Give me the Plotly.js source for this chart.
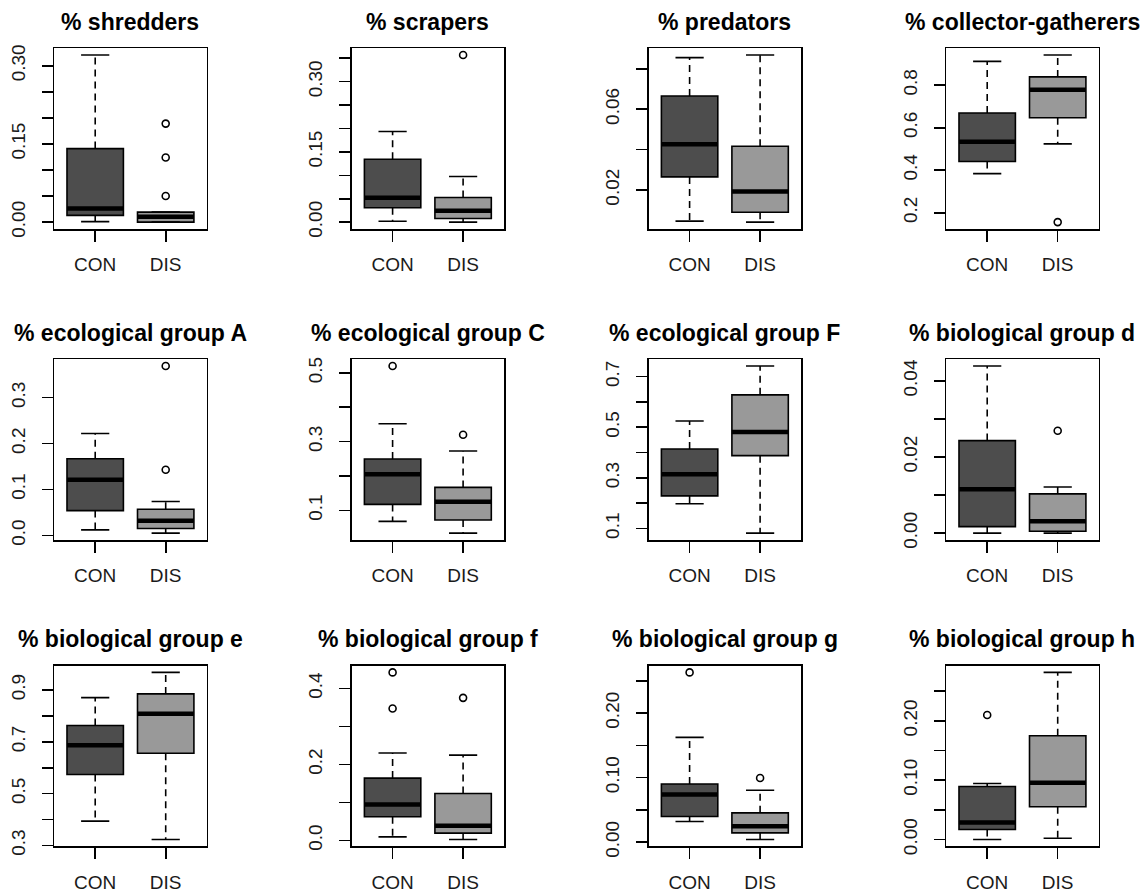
<!DOCTYPE html>
<html>
<head>
<meta charset="utf-8">
<script src="https://cdn.plot.ly/plotly-3.0.1.min.js"></script>
<style>html,body{margin:0;padding:0;background:#fff;}#chart{width:1143px;height:893px;}</style>
</head>
<body>
<div id="chart"></div>
<script>
// ---------------- data ----------------
const panelTitles = [
  "% shredders", "% scrapers", "% predators", "% collector-gatherers",
  "% ecological group A", "% ecological group C", "% ecological group F", "% biological group d",
  "% biological group e", "% biological group f", "% biological group g", "% biological group h"
];
const groupNames = ["CON", "DIS"];

const conLowerWhisker = [0.001, 0.002, 0.0046, 0.384, 0.012, 0.068, 0.198, 0.0000, 0.394, 0.0096, 0.032, 0.000];
const conQ1           = [0.013, 0.0306, 0.0265, 0.441, 0.054, 0.1175, 0.229, 0.0017, 0.574, 0.0623, 0.0397, 0.0169];
const conMedian       = [0.026, 0.0519, 0.0427, 0.534, 0.121, 0.205, 0.314, 0.0115, 0.687, 0.0947, 0.0737, 0.0287];
const conQ3           = [0.141, 0.1344, 0.0666, 0.669, 0.167, 0.2495, 0.414, 0.0243, 0.763, 0.164, 0.0902, 0.0893];
const conUpperWhisker = [0.3206, 0.1934, 0.0856, 0.912, 0.222, 0.352, 0.525, 0.0439, 0.8705, 0.230, 0.1624, 0.0944];
const conOutliers     = [[], [], [], [], [], [0.520], [], [], [], [0.442, 0.347], [0.263], [0.2096]];

const disLowerWhisker = [0.000, 0.000, 0.0041, 0.524, 0.005, 0.034, 0.082, 0.0000, 0.323, 0.0026, 0.0041, 0.0022];
const disQ1           = [0.000, 0.0078, 0.0090, 0.647, 0.015, 0.072, 0.388, 0.0005, 0.656, 0.0193, 0.0144, 0.0551];
const disMedian       = [0.0104, 0.0242, 0.0193, 0.778, 0.032, 0.125, 0.481, 0.0031, 0.808, 0.0386, 0.0247, 0.0955];
const disQ3           = [0.0192, 0.0526, 0.0417, 0.839, 0.057, 0.167, 0.628, 0.0103, 0.885, 0.1237, 0.0454, 0.1747];
const disUpperWhisker = [0.0192, 0.0974, 0.0869, 0.942, 0.074, 0.273, 0.742, 0.0121, 0.968, 0.2246, 0.0804, 0.2815];
const disOutliers     = [[0.05, 0.124, 0.189], [0.357], [], [0.156], [0.143, 0.369], [0.320], [], [0.0269], [], [0.375], [0.0995], []];

const yTickValues = [
  [0, 0.05, 0.10, 0.15, 0.20, 0.25, 0.30],
  [0, 0.05, 0.10, 0.15, 0.20, 0.25, 0.30, 0.35],
  [0.02, 0.04, 0.06, 0.08],
  [0.2, 0.4, 0.6, 0.8],
  [0.0, 0.1, 0.2, 0.3],
  [0.1, 0.2, 0.3, 0.4, 0.5],
  [0.1, 0.2, 0.3, 0.4, 0.5, 0.6, 0.7],
  [0, 0.01, 0.02, 0.03, 0.04],
  [0.3, 0.4, 0.5, 0.6, 0.7, 0.8, 0.9],
  [0.0, 0.1, 0.2, 0.3, 0.4],
  [0, 0.05, 0.10, 0.15, 0.20, 0.25],
  [0, 0.05, 0.10, 0.15, 0.20, 0.25]
];
const yTickLabels = [
  ["0.00", "", "", "0.15", "", "", "0.30"],
  ["0.00", "", "", "0.15", "", "", "0.30", ""],
  ["0.02", "", "0.06", ""],
  ["0.2", "0.4", "0.6", "0.8"],
  ["0.0", "0.1", "0.2", "0.3"],
  ["0.1", "", "0.3", "", "0.5"],
  ["0.1", "", "0.3", "", "0.5", "", "0.7"],
  ["0.00", "", "0.02", "", "0.04"],
  ["0.3", "", "0.5", "", "0.7", "", "0.9"],
  ["0.0", "", "0.2", "", "0.4"],
  ["0.00", "", "0.10", "", "0.20", ""],
  ["0.00", "", "0.10", "", "0.20", ""]
];

// ---------------- styling / layout ----------------
const W = 1143, H = 893;
const colLeftPx = [54.3, 351.7, 648.7, 946.3];
const plotWidthPx = 152.3;
const rowTopPx = [48.3, 359.3, 665.7];
const plotHeightPx = 180.5;
const titleGapPx = 26.5;
const boxWidth = 0.8, stapleWidth = 0.4;
const groupPos = [1, 2];
const fillColors = ["#4d4d4d", "#999999"];
const tickFont = {family: "Liberation Sans, Arial, sans-serif", size: 19, color: "#1a1a1a"};
const titleFont = {family: "Liberation Sans, Arial, sans-serif", size: 23, color: "#000"};

const traces = [];
const layout = {
  width: W, height: H,
  margin: {l: 0, r: 0, t: 0, b: 0},
  paper_bgcolor: "#fff", plot_bgcolor: "#fff",
  showlegend: false,
  annotations: []
};

for (let i = 0; i < 12; i++) {
  const row = Math.floor(i / 4), col = i % 4;
  const sfx = i === 0 ? "" : String(i + 1);
  const xa = "x" + sfx, ya = "y" + sfx;

  const left = colLeftPx[col], right = left + plotWidthPx;
  const top = rowTopPx[row], bottom = top + plotHeightPx;

  const groups = [
    {lw: conLowerWhisker[i], q1: conQ1[i], med: conMedian[i], q3: conQ3[i], uw: conUpperWhisker[i], out: conOutliers[i]},
    {lw: disLowerWhisker[i], q1: disQ1[i], med: disMedian[i], q3: disQ3[i], uw: disUpperWhisker[i], out: disOutliers[i]}
  ];

  // y range: R style, data range extended by 4%
  let all = [];
  groups.forEach(g => { all.push(g.lw, g.uw, g.q1, g.q3); all = all.concat(g.out); });
  const mn = Math.min(...all), mx = Math.max(...all);
  const ext = 0.04 * (mx - mn);

  const dashX = [], dashY = [], stapX = [], stapY = [], medX = [], medY = [], outX = [], outY = [];
  groups.forEach((g, k) => {
    const c = groupPos[k];
    traces.push({
      type: "box", x: [c], q1: [g.q1], median: [g.med], q3: [g.q3],
      lowerfence: [g.q1], upperfence: [g.q3],
      width: boxWidth, whiskerwidth: 0, boxpoints: false,
      fillcolor: fillColors[k], line: {color: "#000", width: 1.6},
      xaxis: xa, yaxis: ya, hoverinfo: "skip", name: groupNames[k]
    });
    if (g.uw > g.q3) { dashX.push(c, c, null); dashY.push(g.q3, g.uw, null); }
    if (g.lw < g.q1) { dashX.push(c, c, null); dashY.push(g.q1, g.lw, null); }
    stapX.push(c - stapleWidth / 2, c + stapleWidth / 2, null, c - stapleWidth / 2, c + stapleWidth / 2, null);
    stapY.push(g.uw, g.uw, null, g.lw, g.lw, null);
    medX.push(c - boxWidth / 2, c + boxWidth / 2, null);
    medY.push(g.med, g.med, null);
    g.out.forEach(v => { outX.push(c); outY.push(v); });
  });
  traces.push({type: "scatter", mode: "lines", x: dashX, y: dashY, xaxis: xa, yaxis: ya,
    line: {color: "#000", width: 1.6, dash: "7px,5px"}, hoverinfo: "skip"});
  traces.push({type: "scatter", mode: "lines", x: stapX, y: stapY, xaxis: xa, yaxis: ya,
    line: {color: "#000", width: 1.6}, hoverinfo: "skip"});
  traces.push({type: "scatter", mode: "lines", x: medX, y: medY, xaxis: xa, yaxis: ya,
    line: {color: "#000", width: 4.5}, hoverinfo: "skip"});
  traces.push({type: "scatter", mode: "markers", x: outX, y: outY, xaxis: xa, yaxis: ya,
    marker: {symbol: "circle-open", size: 7, color: "#000", line: {width: 1.6}}, hoverinfo: "skip"});

  layout["xaxis" + sfx] = {
    domain: [left / W, right / W], anchor: ya,
    range: [0.42, 2.58], tickvals: groupPos, ticktext: groupNames,
    showgrid: false, zeroline: false,
    showline: true, mirror: true, linecolor: "#000", linewidth: 1.8,
    ticks: "outside", ticklen: 11, tickwidth: 1.6, tickcolor: "#000",
    tickfont: tickFont, ticklabelstandoff: 7, fixedrange: true
  };
  layout["yaxis" + sfx] = {
    domain: [1 - bottom / H, 1 - top / H], anchor: xa,
    range: [mn - ext, mx + ext],
    tickvals: yTickValues[i], ticktext: yTickLabels[i], tickangle: -90,
    showgrid: false, zeroline: false,
    showline: true, mirror: true, linecolor: "#000", linewidth: 1.8,
    ticks: "outside", ticklen: 11, tickwidth: 1.6, tickcolor: "#000",
    tickfont: tickFont, ticklabelstandoff: 9, fixedrange: true
  };
  layout.annotations.push({
    text: "<b>" + panelTitles[i] + "</b>", xref: "paper", yref: "paper",
    x: (left + right) / 2 / W, y: 1 - (top - titleGapPx) / H,
    xanchor: "center", yanchor: "middle", showarrow: false, font: titleFont
  });
}

Plotly.newPlot("chart", traces, layout, {staticPlot: true, displayModeBar: false});
</script>
</body>
</html>
